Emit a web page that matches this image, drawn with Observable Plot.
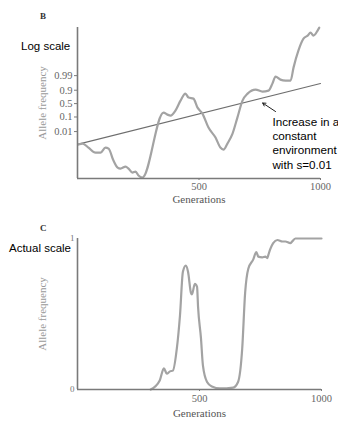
<!DOCTYPE html>
<html>
<head>
<meta charset="utf-8">
<script src="https://cdn.jsdelivr.net/npm/d3@7"></script>
<script src="https://cdn.jsdelivr.net/npm/@observablehq/plot@0.6"></script>
<style>
  html, body { margin: 0; padding: 0; background: #fff; }
  #wrap { position: relative; width: 338px; height: 421px; overflow: hidden; }
  #wrap svg { display: block; }
  .ov { position: absolute; white-space: nowrap; transform: translateY(-50%); line-height: 1; }
  .panel { font-family: "Liberation Serif", serif; font-weight: bold; font-size: 9px; color: #333; }
  .scale { font-family: "Liberation Sans", Arial, sans-serif; font-size: 11.5px; color: #000; }
</style>
</head>
<body>
<div id="wrap">
  <div id="plotB"></div>
  <div id="plotC"></div>
  <div class="ov panel" style="left:40px; top:16px;">B</div>
  <div class="ov scale" style="left:21px; top:47px;">Log scale</div>
  <div class="ov panel" style="left:40px; top:228px;">C</div>
  <div class="ov scale" style="left:9px; top:249px;">Actual scale</div>
</div>
<script>
// ---------- Panel B: logit ("log") scale ----------
const bGenerations = [4, 21, 45, 74, 95, 115, 128, 148, 165, 177, 198, 210, 226, 239, 251, 267, 354, 370, 383, 403, 424, 444, 457, 477, 494, 514, 539, 568, 588, 601, 617, 638, 658, 679, 700, 733, 761, 786, 802, 815, 835, 856, 877, 889, 909, 930, 947, 959, 971, 988, 995];
const bLogit = [-6.73, -6.57, -7.22, -8.05, -8.05, -7.22, -7.39, -9.36, -10.5, -10.67, -10.34, -10.67, -11.33, -11.17, -11.82, -12.15, -1.48, -1.81, -1.97, -1.15, 0.49, 1.64, 0.99, 0.82, -0.66, -1.64, -3.94, -5.58, -7.22, -7.55, -6.57, -4.93, -2.3, 0.49, 1.64, 2.3, 1.97, 2.13, 3.28, 4.43, 3.94, 3.78, 3.78, 5.91, 8.7, 10.67, 11.17, 11.66, 11.17, 11.99, 12.48];
const constGenerations = [0, 1000];
const constLogit = [-6.7, 3.3];
const bTickFreqs = [0.01, 0.1, 0.5, 0.9, 0.99];
const bTickLabels = ["0.01", "0.1", "0.5", "0.9", "0.99"];
const xTicks = [500, 1000];
const annotationText = ["Increase in a\nconstant\nenvironment\nwith s=0.01"];
const arrowFrom = [815, -1.3];
const arrowTo = [762, 0.1];
const annotationAt = [802, -2.0];

// ---------- Panel C: actual scale ----------
const cGenerations = [300, 337, 354, 366, 379, 391, 407, 420, 432, 444, 453, 465, 469, 481, 490, 494, 506, 514, 531, 551, 584, 638, 658, 675, 687, 700, 720, 733, 741, 757, 770, 778, 782, 790, 802, 819, 840, 852, 872, 893, 914, 1000];
const cFreq = [0, 0.06, 0.14, 0.105, 0.12, 0.125, 0.27, 0.49, 0.78, 0.82, 0.78, 0.64, 0.63, 0.7, 0.68, 0.55, 0.34, 0.16, 0.05, 0.02, 0.007, 0.013, 0.05, 0.27, 0.64, 0.8, 0.86, 0.91, 0.88, 0.875, 0.88, 0.87, 0.89, 0.93, 0.97, 0.99, 0.98, 0.98, 0.97, 1.0, 1.0, 1.0];
const cTicks = [0, 1];

const logit = p => Math.log(p / (1 - p));
const bCurve = bGenerations.map((g, i) => ({g, v: bLogit[i]}));
const constLine = constGenerations.map((g, i) => ({g, v: constLogit[i]}));
const cCurve = cGenerations.map((g, i) => ({g, v: cFreq[i]}));
const bTicks = bTickFreqs.map(logit);
const labelOf = new Map(bTicks.map((t, i) => [t, bTickLabels[i]]));

const AXIS = "#7a7a7a";
const CURVE = "#a3a3a3";
const SERIF = "Liberation Serif, DejaVu Serif, serif";
const SANS = "Liberation Sans, Arial, sans-serif";
const style = {fontFamily: SERIF, fontSize: "10.5px", color: "#666", background: "transparent", overflow: "visible"};
const intFmt = d => String(d);

const B = Plot.plot({
  width: 338, height: 210,
  marginLeft: 77, marginRight: 18, marginTop: 27, marginBottom: 32,
  style,
  x: {domain: [0, 1000]},
  y: {domain: [-12.3, 12.5]},
  marks: [
    Plot.axisY({ticks: bTicks, tickFormat: t => labelOf.get(t), tickSize: 3, tickPadding: 2, stroke: AXIS, fill: "#666", fontFamily: SERIF, fontSize: 10.5, label: null}),
    Plot.axisX({ticks: xTicks, tickFormat: intFmt, tickSize: 2, tickPadding: 2, stroke: AXIS, fill: "#666", fontFamily: SERIF, fontSize: 10.5, label: null}),
    Plot.line(constLine, {x: "g", y: "v", stroke: "#6e6e6e", strokeWidth: 1.1}),
    Plot.line(bCurve, {x: "g", y: "v", stroke: CURVE, strokeWidth: 2.2, curve: "monotone-x"}),
    Plot.ruleX([0], {stroke: AXIS, strokeWidth: 1.6}),
    Plot.ruleY([-12.3], {stroke: AXIS, strokeWidth: 1.6}),
    Plot.arrow([0], {x1: () => arrowFrom[0], y1: () => arrowFrom[1], x2: () => arrowTo[0], y2: () => arrowTo[1], stroke: "#222", strokeWidth: 1, headLength: 5}),
    Plot.text(annotationText, {x: () => annotationAt[0], y: () => annotationAt[1], text: d => d, textAnchor: "start", lineAnchor: "top", lineHeight: 1.22, fontSize: 11.7, fill: "#000", fontFamily: SANS}),
    Plot.text(["Allele frequency"], {frameAnchor: "left", text: d => d, textAnchor: "middle", lineAnchor: "middle", rotate: -90, dx: -35, fontSize: 11, fill: "#9a9a9a", fontFamily: SERIF}),
    Plot.text(["Generations"], {frameAnchor: "bottom", text: d => d, textAnchor: "middle", lineAnchor: "middle", dy: 21, fontSize: 11, fill: "#555", fontFamily: SERIF})
  ]
});
document.getElementById("plotB").appendChild(B);

const C = Plot.plot({
  width: 338, height: 211,
  marginLeft: 77, marginRight: 17, marginTop: 28, marginBottom: 32,
  style,
  x: {domain: [0, 1000]},
  y: {domain: [0, 1]},
  marks: [
    Plot.axisY({ticks: cTicks, tickFormat: intFmt, tickSize: 0, tickPadding: 3, fill: "#777", fontFamily: SERIF, fontSize: 9, label: null}),
    Plot.axisX({ticks: xTicks, tickFormat: intFmt, tickSize: 2, tickPadding: 3, stroke: AXIS, fill: "#666", fontFamily: SERIF, fontSize: 10.5, label: null}),
    Plot.line(cCurve, {x: "g", y: "v", stroke: CURVE, strokeWidth: 2.2, curve: "monotone-x"}),
    Plot.ruleX([0], {stroke: AXIS, strokeWidth: 1.6}),
    Plot.ruleY([0], {stroke: AXIS, strokeWidth: 1.6}),
    Plot.text(["Allele frequency"], {frameAnchor: "left", text: d => d, textAnchor: "middle", lineAnchor: "middle", rotate: -90, dx: -35, fontSize: 11, fill: "#9a9a9a", fontFamily: SERIF}),
    Plot.text(["Generations"], {frameAnchor: "bottom", text: d => d, textAnchor: "middle", lineAnchor: "middle", dy: 24, fontSize: 11, fill: "#555", fontFamily: SERIF})
  ]
});
document.getElementById("plotC").appendChild(C);
</script>
</body>
</html>
